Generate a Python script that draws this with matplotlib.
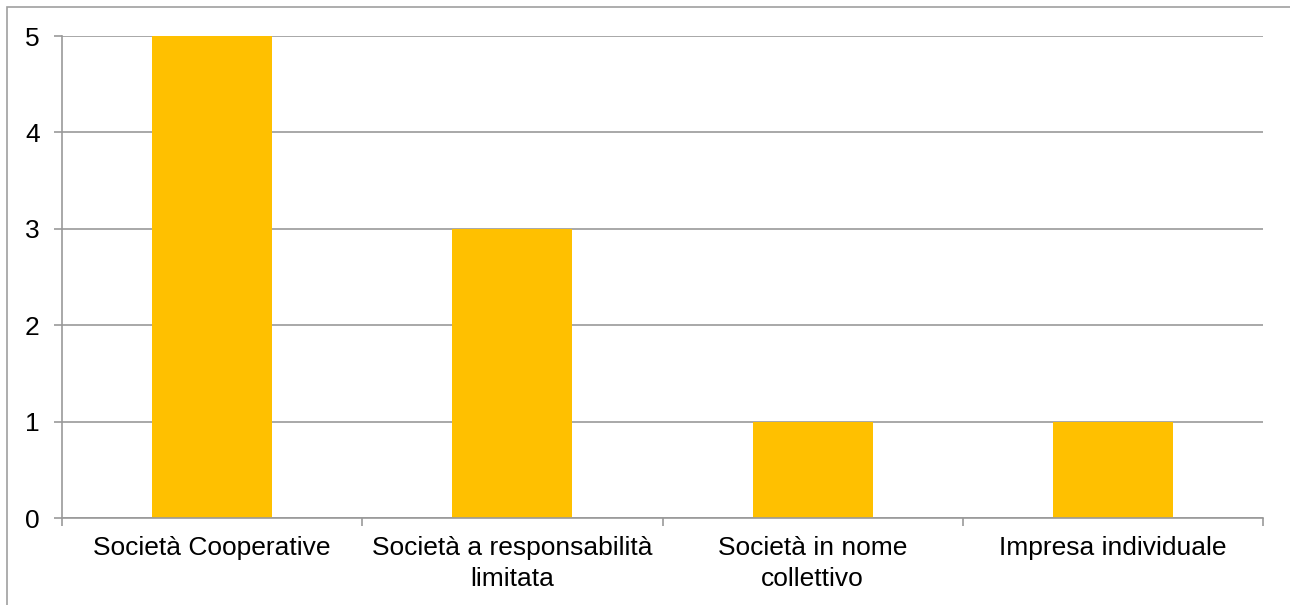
import matplotlib
matplotlib.use("Agg")
import matplotlib.pyplot as plt
from matplotlib.patches import Rectangle
import numpy as np

categories = ["Società Cooperative", "Società a responsabilità\nlimitata",
              "Società in nome\ncollettivo", "Impresa individuale"]
values = [5, 3, 1, 1]
yticks = [0, 1, 2, 3, 4, 5]

plt.rcParams['font.family'] = ['Liberation Sans', 'DejaVu Sans']

fig = plt.figure(figsize=(12.9, 6.05), dpi=100)
ax = fig.add_axes([62 / 1290, 1 - 518 / 605, (1263 - 62) / 1290, (518 - 36) / 605])

grid_col = "#999999"
x = np.arange(len(categories))
ax.bar(x, values, width=0.4, color="#FFC000", zorder=3)

ax.set_xlim(-0.5, len(categories) - 0.5)
ax.set_ylim(0, 5)
ax.set_yticks(yticks)
ax.yaxis.grid(True, color=grid_col, linewidth=1.2, zorder=0)

ax.set_xticks(x)
ax.set_xticklabels(categories, fontsize=19, linespacing=1.35)
ax.set_xticks(np.arange(len(categories) + 1) - 0.5, minor=True)
ax.tick_params(axis='x', which='major', length=0, pad=13)
ax.tick_params(axis='x', which='minor', length=6, width=1.2, color=grid_col, direction='out')
ax.tick_params(axis='y', length=6, width=1.2, color=grid_col, labelsize=19, pad=10)

for s in ("top", "right"):
    ax.spines[s].set_visible(False)
for s in ("left", "bottom"):
    ax.spines[s].set_color(grid_col)
    ax.spines[s].set_linewidth(1.2)
    ax.spines[s].set_zorder(4)

# outer chart frame
fig.patches.append(Rectangle((7 / 1290, -0.1), 1.2, 1 - 7 / 605 + 0.1,
                             transform=fig.transFigure, fill=False,
                             edgecolor="#A0A0A0", linewidth=1.2))

fig.savefig("out.png", dpi=100)
